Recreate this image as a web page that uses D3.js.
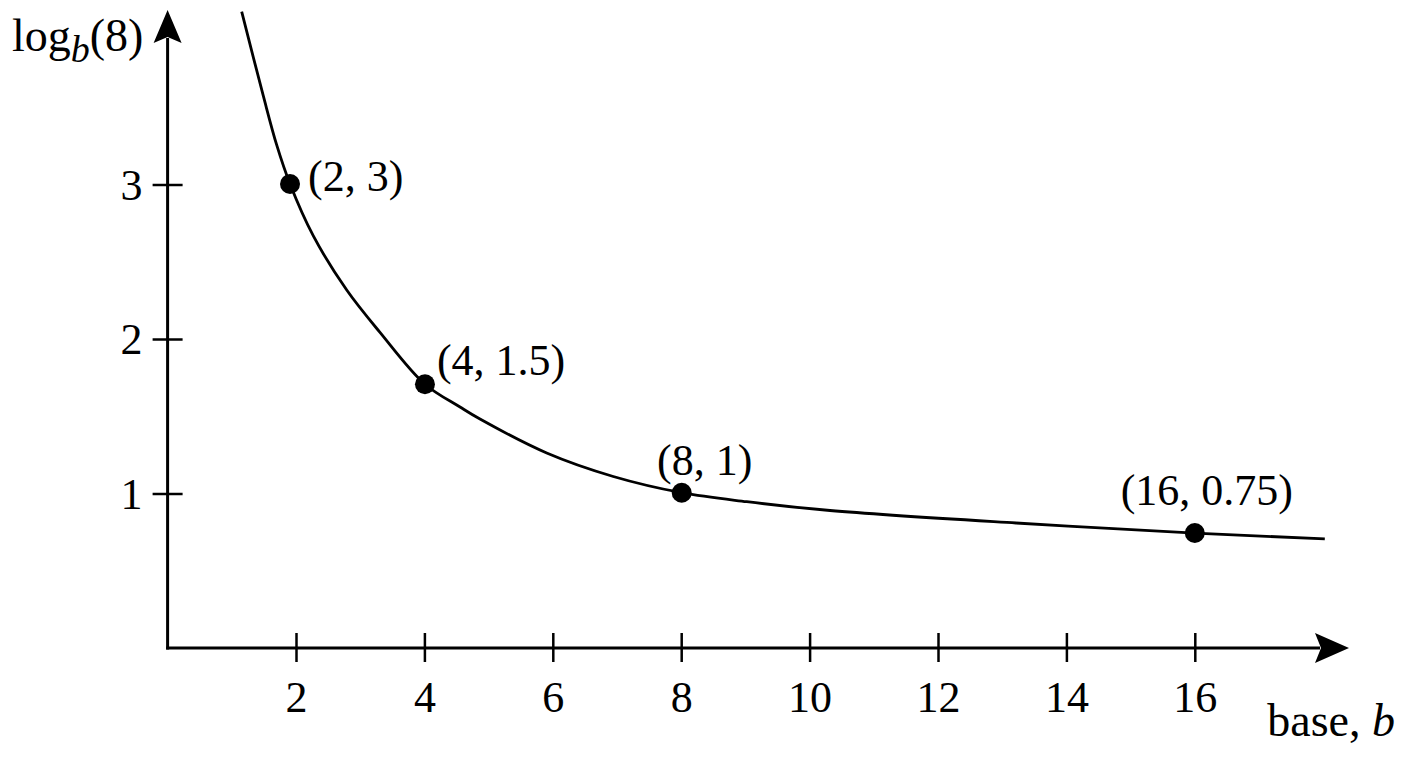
<!DOCTYPE html>
<html>
<head>
<meta charset="utf-8">
<script src="https://cdn.jsdelivr.net/npm/d3@7"></script>
<style>
  html, body { margin: 0; padding: 0; background: #fff; }
  svg { display: block; }
  text { font-family: "Liberation Serif", "Times New Roman", serif; fill: #000; }
</style>
</head>
<body>
<svg id="chart" width="1408" height="768"></svg>
<script>
// ---- data ----
const xTicks = [2, 4, 6, 8, 10, 12, 14, 16];
const yTicks = [1, 2, 3];
// curve samples as drawn: base b and value
const curveB = [1.154, 1.491, 1.699, 1.907, 2.270, 2.790, 3.308, 4.009, 4.555, 4.866, 5.905, 6.942, 8.008, 9.020, 10.318, 13.215, 16.0, 18.025];
const curveV = [4.119, 3.573, 3.256, 3.003, 2.667, 2.317, 2.043, 1.707, 1.560, 1.482, 1.262, 1.110, 1.005, 0.947, 0.890, 0.809, 0.744, 0.706];
// highlighted points as drawn and their labels
const ptB = [1.907, 4.009, 8.008, 16.0];
const ptV = [3.003, 1.707, 1.005, 0.744];
const ptLabels = ["(2, 3)", "(4, 1.5)", "(8, 1)", "(16, 0.75)"];

// ---- layout ----
const svg = d3.select("#chart");
const x = d3.scaleLinear().domain([0, 18]).range([167.6, 167.6 + 18 * 64.2]);
const y = d3.scaleLinear().domain([0, 3]).range([648, 648 - 3 * 154.5]);
const FS = 44;
const FF = "'Liberation Serif', 'Times New Roman', serif";

// x axis line + arrow
svg.append("line").attr("x1", x(0) - 1.5).attr("y1", y(0)).attr("x2", 1320).attr("y2", y(0))
  .attr("stroke", "#000").attr("stroke-width", 3);
svg.append("path").attr("d", `M1349,${y(0)} L1315,${y(0) - 15} L1321,${y(0)} L1315,${y(0) + 15} Z`).attr("fill", "#000");
// y axis line + arrow
svg.append("line").attr("x1", x(0)).attr("y1", y(0) + 1.5).attr("x2", x(0)).attr("y2", 38)
  .attr("stroke", "#000").attr("stroke-width", 3);
svg.append("path").attr("d", `M${x(0)},10 L${x(0) - 14},43 L${x(0)},37 L${x(0) + 14},43 Z`).attr("fill", "#000");

// x axis ticks via d3 axis
const gx = svg.append("g").attr("transform", `translate(0,${y(0)})`)
  .call(d3.axisBottom(x).tickValues(xTicks).tickSize(14).tickFormat(d3.format("d")));
gx.select(".domain").remove();
gx.selectAll(".tick line").attr("y1", -15).attr("y2", 14).attr("stroke", "#000").attr("stroke-width", 2.5);
gx.selectAll(".tick text").attr("y", 64).attr("dy", 0).attr("font-size", FS)
  .style("font-family", FF).attr("fill", "#000");

// y axis ticks via d3 axis
const gy = svg.append("g").attr("transform", `translate(${x(0)},0)`)
  .call(d3.axisLeft(y).tickValues(yTicks).tickSize(14).tickFormat(d3.format("d")));
gy.select(".domain").remove();
gy.selectAll(".tick line").attr("x1", -15).attr("x2", 15).attr("stroke", "#000").attr("stroke-width", 2.5);
gy.selectAll(".tick text").attr("x", -25).attr("dy", "0.34em").attr("font-size", FS)
  .style("font-family", FF).attr("fill", "#000");

// curve
const curve = curveB.map((b, i) => [b, curveV[i]]);
svg.append("path").datum(curve)
  .attr("fill", "none").attr("stroke", "#000").attr("stroke-width", 2.8)
  .attr("stroke-linejoin", "round")
  .attr("d", d3.line().x(d => x(d[0])).y(d => y(d[1])).curve(d3.curveCatmullRom.alpha(0.5)));

// points
const pts = ptB.map((b, i) => ({ b, v: ptV[i], label: ptLabels[i] }));
svg.selectAll("circle.pt").data(pts).join("circle").attr("class", "pt")
  .attr("cx", d => x(d.b)).attr("cy", d => y(d.v)).attr("r", 10).attr("fill", "#000");

// point labels
const labelPlace = [
  { dx: 18, dy: 7, anchor: "start" },
  { dx: 12, dy: -9, anchor: "start" },
  { dx: 23, dy: -18, anchor: "middle" },
  { dx: 12, dy: -28, anchor: "middle" }
];
svg.selectAll("text.pl").data(pts).join("text").attr("class", "pl")
  .attr("x", (d, i) => x(d.b) + labelPlace[i].dx)
  .attr("y", (d, i) => y(d.v) + labelPlace[i].dy)
  .attr("text-anchor", (d, i) => labelPlace[i].anchor)
  .attr("font-size", FS)
  .text(d => d.label);

// axis titles
const yt = svg.append("text").attr("x", 12).attr("y", 51).attr("font-size", 46);
yt.append("tspan").text("log");
yt.append("tspan").attr("font-style", "italic").attr("font-size", 38).attr("dy", 11).text("b");
yt.append("tspan").attr("dy", -11).text("(8)");

const xt = svg.append("text").attr("x", 1395).attr("y", 736).attr("text-anchor", "end").attr("font-size", 46);
xt.append("tspan").text("base, ");
xt.append("tspan").attr("font-style", "italic").text("b");
</script>
</body>
</html>
